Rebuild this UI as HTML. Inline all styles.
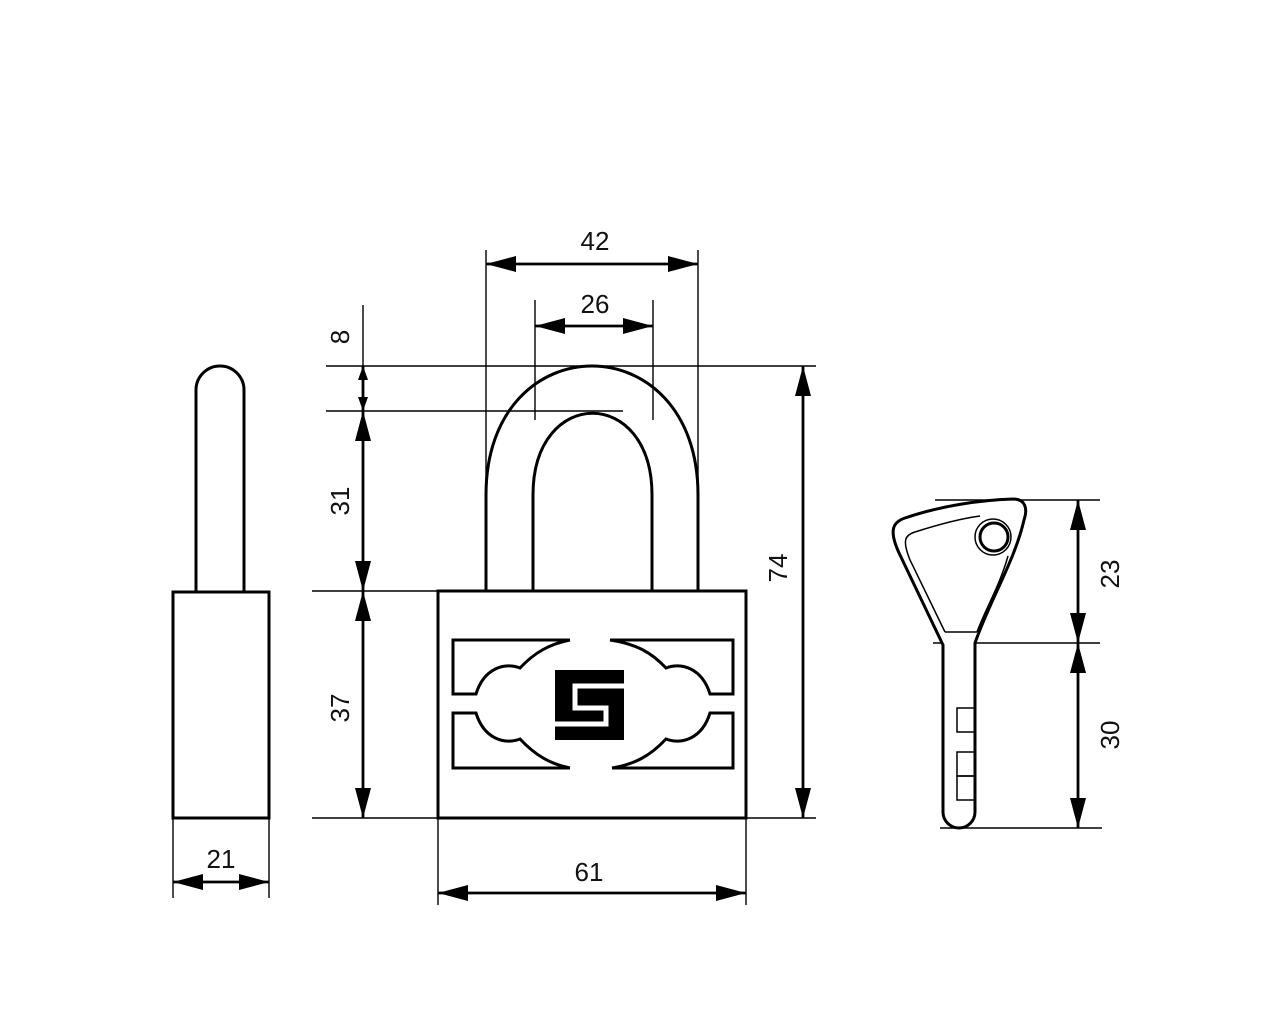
<!DOCTYPE html>
<html><head><meta charset="utf-8"><style>html,body{margin:0;padding:0;background:#fff}svg{display:block}text{font-family:"Liberation Sans",sans-serif;font-size:26px;fill:#111}</style></head>
<body>
<svg width="1280" height="1024" viewBox="0 0 1280 1024" xmlns="http://www.w3.org/2000/svg">
<defs>
<marker id="a" viewBox="0 0 30 16" refX="30" refY="8" markerWidth="30" markerHeight="16" markerUnits="userSpaceOnUse" orient="auto-start-reverse"><path d="M0,0 L30,8 L0,16 Z" fill="#000"/></marker>
<marker id="s" viewBox="0 0 14 10" refX="14" refY="5" markerWidth="14" markerHeight="10" markerUnits="userSpaceOnUse" orient="auto-start-reverse"><path d="M0,0 L14,5 L0,10 Z" fill="#000"/></marker>
</defs>
<g stroke="#000" fill="none">
<g stroke-width="1.4">
<line x1="173" y1="818" x2="173" y2="898"/><line x1="269" y1="818" x2="269" y2="898"/>
<line x1="486" y1="250" x2="486" y2="480"/><line x1="698" y1="250" x2="698" y2="480"/>
<line x1="535" y1="300" x2="535" y2="420"/><line x1="653" y1="300" x2="653" y2="420"/>
<line x1="326" y1="366" x2="816" y2="366"/>
<line x1="326" y1="411" x2="623" y2="411"/>
<line x1="312" y1="591" x2="438" y2="591"/>
<line x1="312" y1="818" x2="438" y2="818"/><line x1="746" y1="818" x2="816" y2="818"/>
<line x1="363" y1="305" x2="363" y2="366"/>
<line x1="438" y1="818" x2="438" y2="905"/><line x1="746" y1="818" x2="746" y2="905"/>
<line x1="935" y1="500" x2="1100" y2="500"/>
<line x1="933" y1="643" x2="1100" y2="643"/>
<line x1="940" y1="828" x2="1102" y2="828"/>
</g>
<g stroke-width="2.8">
<line x1="173" y1="882" x2="269" y2="882" marker-start="url(#a)" marker-end="url(#a)"/>
<line x1="486" y1="264" x2="698" y2="264" marker-start="url(#a)" marker-end="url(#a)"/>
<line x1="535" y1="326" x2="653" y2="326" marker-start="url(#a)" marker-end="url(#a)"/>
<line x1="363" y1="366" x2="363" y2="411" marker-start="url(#s)" marker-end="url(#s)"/>
<line x1="363" y1="411" x2="363" y2="591" marker-start="url(#a)" marker-end="url(#a)"/>
<line x1="363" y1="591" x2="363" y2="818" marker-start="url(#a)" marker-end="url(#a)"/>
<line x1="803" y1="366" x2="803" y2="818" marker-start="url(#a)" marker-end="url(#a)"/>
<line x1="438" y1="893" x2="746" y2="893" marker-start="url(#a)" marker-end="url(#a)"/>
<line x1="1078" y1="500" x2="1078" y2="643" marker-start="url(#a)" marker-end="url(#a)"/>
<line x1="1078" y1="643" x2="1078" y2="828" marker-start="url(#a)" marker-end="url(#a)"/>
</g>
<g stroke-width="3">
<path d="M196,592 V390 A24,24 0 0 1 244,390 V592"/>
<rect x="173" y="592" width="96" height="226"/>
</g>
<g stroke-width="3">
<path d="M486,590 V495 C486,323 698,323 698,495 V590"/>
<path d="M533,590 V495 C533,386 652,386 652,495 V590"/>
<rect x="438" y="591" width="308" height="227"/>
<path d="M570,640 H453 V694 H476 C484,668 505,662 520,668 C535,652 550,644 570,640"/>
<path d="M570,768 H453 V713 H476 C484,739 505,745 520,739 C535,755 550,764 570,768"/>
<path d="M610,640 H733 V694 H710 C702,668 681,662 666,668 C651,652 636,644 610,640"/>
<path d="M612,768 H733 V713 H710 C702,739 681,745 666,739 C651,755 636,764 612,768"/>
</g>
<rect x="555" y="670" width="69" height="70" fill="#000" stroke="none"/>
<polyline points="626,686 575,686 575,708 606,708 606,724 553,724" stroke="#fff" stroke-width="5"/>
<path d="M943,645 L900,555 C888,530 893,522 905,518 C940,506 980,500 1013,499 C1025,499 1028,508 1024,520 C1015,560 990,600 975,643 V812 A16,16 0 0 1 943,812 Z" stroke-width="3" fill="#fff"/>
<path d="M945,632 L910,560 C902,540 905,535 915,532 C940,524 965,518 980,516 M1008,556 C1000,585 985,610 977,632 M945,632 H977" stroke-width="1.5"/>
<circle cx="993" cy="537" r="18" stroke-width="1.5"/>
<circle cx="994" cy="537" r="14" stroke-width="3"/>
<g stroke-width="1.5"><rect x="957" y="708" width="18" height="24"/><rect x="957" y="752" width="18" height="24"/><rect x="957" y="776" width="18" height="24"/></g>
</g>
<text x="221" y="868" text-anchor="middle">21</text>
<text x="595" y="250" text-anchor="middle">42</text>
<text x="595" y="313" text-anchor="middle">26</text>
<text x="589" y="881" text-anchor="middle">61</text>
<text transform="translate(349,337) rotate(-90)" text-anchor="middle">8</text>
<text transform="translate(349,501) rotate(-90)" text-anchor="middle">31</text>
<text transform="translate(349,708) rotate(-90)" text-anchor="middle">37</text>
<text transform="translate(787,568) rotate(-90)" text-anchor="middle">74</text>
<text transform="translate(1119,574) rotate(-90)" text-anchor="middle">23</text>
<text transform="translate(1119,735) rotate(-90)" text-anchor="middle">30</text>
</svg>
</body></html>
